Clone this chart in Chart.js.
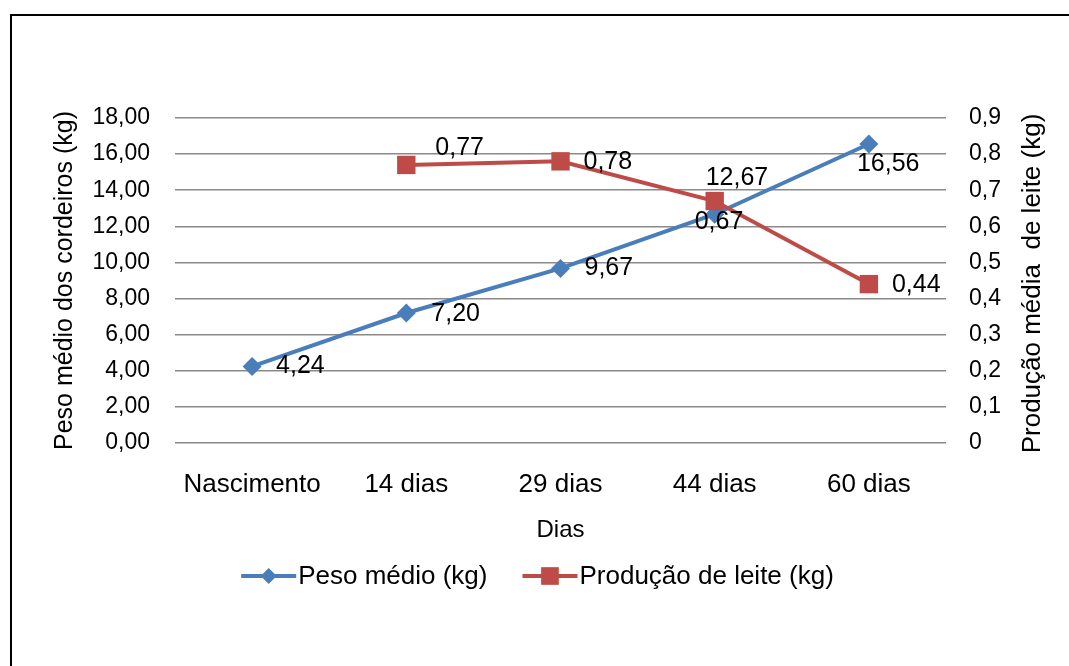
<!DOCTYPE html>
<html>
<head>
<meta charset="utf-8">
<script src="https://cdn.jsdelivr.net/npm/chart.js@4.4.1/dist/chart.umd.min.js"></script>
<style>
html, body { margin: 0; padding: 0; background: #fff; overflow: hidden; }
#frame { position: absolute; left: 10px; top: 14px; width: 1100px; height: 700px; border: 2px solid #000; }
#wrap { position: absolute; left: 0; top: 0; width: 1069px; height: 666px; }
</style>
</head>
<body>
<div id="frame"></div>
<div id="wrap"><canvas id="chart" width="1069" height="666"></canvas></div>
<script>
const categories = ["Nascimento", "14 dias", "29 dias", "44 dias", "60 dias"];
const pesoMedio = [4.24, 7.20, 9.67, 12.67, 16.56];
const producaoLeite = [null, 0.77, 0.78, 0.67, 0.44];
const seriesNames = ["Peso médio (kg)", "Produção de leite (kg)"];
const leftTitle = "Peso médio dos cordeiros (kg)";
const rightTitle = "Produção média  de leite (kg)";
const xTitle = "Dias";

const fontFamily = "'Liberation Sans', Arial, sans-serif";
Chart.defaults.font.family = fontFamily;
Chart.defaults.color = "#000";

function formatNumber(value, digits) {
	return value.toFixed(digits).replace(".", ",");
}

// value labels next to each point, shifted by the dataset's labelShift
const pointLabels = {
	id: "pointLabels",
	afterDatasetsDraw(chart) {
		const ctx = chart.ctx;
		ctx.save();
		ctx.font = "25px " + fontFamily;
		ctx.fillStyle = "#000";
		ctx.textAlign = "left";
		ctx.textBaseline = "middle";
		chart.data.datasets.forEach((ds, i) => {
			const meta = chart.getDatasetMeta(i);
			meta.data.forEach((pt, j) => {
				const v = ds.data[j];
				if (v === null) {
					return;
				}
				const shift = ds.labelShift[j];
				ctx.fillText(formatNumber(v, 2), pt.x + shift[0], pt.y + shift[1]);
			});
		});
		ctx.restore();
	}
};

// right axis title (bottom to top) and the line+marker legend
const extras = {
	id: "extras",
	afterDraw(chart) {
		const ctx = chart.ctx;
		const area = chart.chartArea;
		ctx.save();
		ctx.font = "26px " + fontFamily;
		ctx.fillStyle = "#000";
		ctx.textAlign = "center";
		ctx.textBaseline = "middle";
		ctx.translate(1033, (area.top + area.bottom) / 2 + 3);
		ctx.rotate(-Math.PI / 2);
		ctx.fillText(rightTitle, 0, 0);
		ctx.restore();

		ctx.save();
		ctx.font = "26px " + fontFamily;
		ctx.textBaseline = "middle";
		ctx.textAlign = "left";
		const lineLen = 55;
		const gap = 35;
		const items = chart.data.datasets.map(ds => ({
			ds: ds,
			w: lineLen + 2 + ctx.measureText(ds.label).width
		}));
		const total = items.reduce((s, it) => s + it.w, 0) + gap * (items.length - 1);
		let x = chart.width / 2 + 3 - total / 2;
		const y = area.bottom + 133;
		items.forEach(it => {
			const ds = it.ds;
			ctx.strokeStyle = ds.borderColor;
			ctx.lineWidth = ds.borderWidth;
			ctx.beginPath();
			ctx.moveTo(x, y);
			ctx.lineTo(x + lineLen, y);
			ctx.stroke();
			ctx.fillStyle = ds.backgroundColor;
			Chart.helpers.drawPoint(ctx, {
				pointStyle: ds.pointStyle,
				radius: ds.legendRadius,
				borderWidth: 0,
				rotation: 0
			}, x + lineLen / 2, y);
			ctx.fillStyle = "#000";
			ctx.fillText(ds.label, x + lineLen + 2, y + 1);
			x += it.w + gap;
		});
		ctx.restore();
	}
};

const context = document.getElementById("chart").getContext("2d");
const chart = new Chart(context, {
	type: "line",
	data: {
		labels: categories,
		datasets: [
			{
				label: seriesNames[0],
				data: pesoMedio,
				yAxisID: "y",
				borderColor: "#4A7EBB",
				backgroundColor: "#4A7EBB",
				borderWidth: 4,
				pointStyle: "rectRot",
				pointRadius: 9.5,
				pointBorderWidth: 0,
				legendRadius: 8,
				labelShift: [[24, 0], [25, 1], [24, 0], [-9, -36], [-12, 20]],
				order: 1
			},
			{
				label: seriesNames[1],
				data: producaoLeite,
				yAxisID: "y1",
				borderColor: "#BE4B48",
				backgroundColor: "#BE4B48",
				borderWidth: 4,
				pointStyle: "rect",
				pointRadius: 13,
				pointBorderWidth: 0,
				legendRadius: 12.5,
				labelShift: [null, [29, -17], [23, 1], [-20, 21], [23, 1]],
				order: 0
			}
		]
	},
	options: {
		responsive: false,
		animation: false,
		devicePixelRatio: 1,
		layout: {
			padding: { top: 118, left: 0, right: 0, bottom: 121.6 }
		},
		plugins: {
			legend: { display: false },
			tooltip: { enabled: false }
		},
		scales: {
			x: {
				offset: true,
				grid: { display: false, drawTicks: false },
				border: { display: false },
				ticks: { font: { size: 26 }, padding: 26, color: "#000", maxRotation: 0 },
				title: {
					display: true,
					text: xTitle,
					font: { size: 24 },
					color: "#000",
					padding: { top: 0, bottom: 0 }
				},
				afterFit: scale => { scale.height = 101.4; }
			},
			y: {
				position: "left",
				min: 0,
				max: 18,
				grid: { color: "#8a8a8a", lineWidth: 1.5, drawTicks: false },
				border: { display: false },
				ticks: {
					stepSize: 2,
					padding: 25,
					font: { size: 23 },
					color: "#000",
					callback: v => formatNumber(v, 2)
				},
				title: {
					display: true,
					text: leftTitle,
					font: { size: 25 },
					color: "#000",
					padding: { top: 50, bottom: 0 }
				},
				afterFit: scale => { scale.width = 175; }
			},
			y1: {
				position: "right",
				min: 0,
				max: 0.9,
				grid: { display: false, drawTicks: false },
				border: { display: false },
				ticks: {
					stepSize: 0.1,
					padding: 23,
					font: { size: 23 },
					color: "#000",
					callback: v => (Math.abs(v) < 1e-9 ? "0" : formatNumber(v, 1))
				},
				afterFit: scale => { scale.width = 123; }
			}
		}
	},
	plugins: [pointLabels, extras]
});
</script>
</body>
</html>
